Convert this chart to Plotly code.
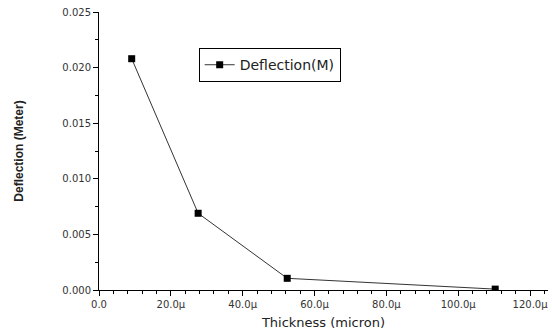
import plotly.graph_objects as go

thickness = [9.1, 27.6, 52.4, 110.3]
deflection = [0.0208, 0.0069, 0.00105, 0.00008]
x_tick_vals = [0, 20, 40, 60, 80, 100, 120]
x_tick_text = ["0.0", "20.0\u03bc", "40.0\u03bc", "60.0\u03bc", "80.0\u03bc", "100.0\u03bc", "120.0\u03bc"]
y_tick_vals = [0, 0.005, 0.010, 0.015, 0.020, 0.025]
y_tick_text = ["0.000", "0.005", "0.010", "0.015", "0.020", "0.025"]

fig = go.Figure()
fig.add_trace(go.Scatter(
    x=thickness, y=deflection, mode="lines+markers", name="Deflection(M)",
    line=dict(color="#333333", width=1),
    marker=dict(symbol="square", size=7, color="black"),
))

fig.update_layout(
    width=552, height=335,
    margin=dict(l=99, r=4, t=12, b=45),
    paper_bgcolor="white", plot_bgcolor="white",
    font=dict(family="DejaVu Sans, sans-serif", color="#222222"),
    showlegend=True,
    legend=dict(x=0.222, y=0.87, xanchor="left", yanchor="top",
                bordercolor="black", borderwidth=1, bgcolor="white",
                font=dict(size=14, color="#222222", family="DejaVu Sans, sans-serif"),
                itemwidth=30, tracegroupgap=0),
    xaxis=dict(
        range=[0, 125], showgrid=False, zeroline=False, automargin=False,
        showline=True, linecolor="black", linewidth=1,
        ticks="outside", ticklen=5, tickcolor="black",
        tickvals=x_tick_vals, ticktext=x_tick_text, ticklabeloverflow="allow",
        tickfont=dict(size=10, color="#333333"),
        minor=dict(dtick=4, tick0=0, ticks="outside", ticklen=3, tickcolor="black"),
        title=dict(text="Thickness (micron)", font=dict(size=13, color="#222222"), standoff=8),
    ),
    yaxis=dict(
        range=[0, 0.025], showgrid=False, zeroline=False, automargin=False,
        showline=True, linecolor="black", linewidth=1,
        ticks="outside", ticklen=5, tickcolor="black",
        tickvals=y_tick_vals, ticktext=y_tick_text, ticklabeloverflow="allow",
        tickfont=dict(size=10, color="#333333"),
        minor=dict(dtick=0.0025, tick0=0, ticks="outside", ticklen=3, tickcolor="black"),
        title=dict(text="<b>Deflection (Meter)</b>", font=dict(size=12, family="Liberation Sans Narrow, Arial Narrow, sans-serif", color="#222222"), standoff=36),
    ),
)

fig.write_html("out.html", config={"displayModeBar": False},
               post_script="document.body.style.margin='0px';")
